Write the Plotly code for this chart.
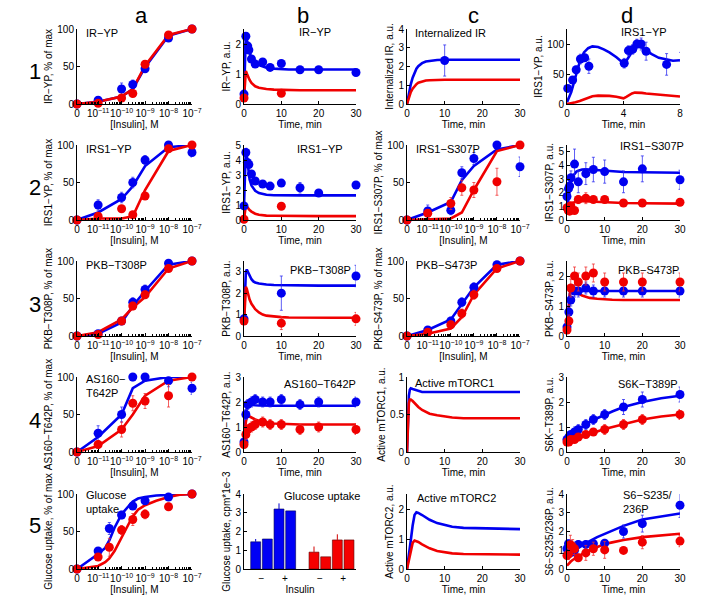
import math
import plotly.graph_objects as go

# ---------------- data ----------------
CONC = [0, 1e-11, 1e-10, 3e-10, 1e-9, 1e-8, 1e-7]
CONC_GLU = [0, 1e-11, 3e-11, 1e-10, 3e-10, 1e-9, 1e-8, 1e-7]
CONC_FINE = [0, 1e-11, 2e-11, 3e-11, 5e-11, 1e-10, 2e-10, 3e-10, 5e-10, 1e-9, 3e-9, 1e-8, 3e-8, 1e-7]
DOSE_TICKS = [0, 1e-11, 1e-10, 1e-9, 1e-8, 1e-7]
DOSE_TICKTEXT = ["0", "10<sup>−11</sup>", "10<sup>−10</sup>", "10<sup>−9</sup>", "10<sup>−8</sup>", "10<sup>−7</sup>"]

T_MOD = [0, 0.25, 0.5, 0.75, 1, 1.5, 2, 2.5, 3, 4, 5, 6, 8, 10, 12, 15, 20, 25, 30]
T_D1 = [0, 0.3, 0.6, 0.9, 1.2, 1.5, 1.8, 2.2, 2.6, 3.0, 3.5, 4.0, 4.2, 4.4, 4.6, 4.8, 5.0, 5.3, 5.6, 6.0, 6.5, 7.0, 7.5, 8.0]
T_PTS = [0, 0.5, 1, 2, 3, 5, 7, 10, 15, 20, 30]

# Row 1
ir_dose_blue_pts = [0, 5, 20, 26, 47, 88, 100]
ir_dose_blue_err = [0, 2, 8, 6, 5, 3, 0]
ir_dose_red_pts = [0, 1, 8, 14, 53, 92, 100]
ir_dose_blue_mod = [0, 3, 10, 20, 49, 91, 100]
ir_dose_red_mod = [0, 3, 10, 20, 51, 92, 100]

ir_t_blue_pts_t = [0, 0.5, 1, 1.3, 2, 3, 5, 7, 10, 15, 20, 30]
ir_t_blue_pts = [0.33, 2.26, 1.93, 1.8, 1.5, 1.33, 1.4, 1.22, 1.35, 1.14, 1.14, 1.05]
ir_t_blue_err = [0.03, 0.12, 0.1, 0.1, 0.08, 0.08, 0.08, 0.08, 0.08, 0.06, 0.06, 0.08]
ir_t_red_pts_t = [0, 10]
ir_t_red_pts = [0.2, 0.36]
ir_t_blue_mod = [0.3, 1.9, 2.3, 2.15, 1.95, 1.7, 1.55, 1.45, 1.38, 1.3, 1.25, 1.21, 1.18, 1.16, 1.15, 1.15, 1.15, 1.15, 1.15]
ir_t_red_mod = [0.2, 0.85, 1.1, 1.02, 0.93, 0.8, 0.7, 0.63, 0.59, 0.54, 0.51, 0.5, 0.48, 0.47, 0.47, 0.46, 0.46, 0.46, 0.46]

intir_blue_mod = [0, 0.3, 0.55, 0.8, 1.05, 1.4, 1.7, 1.88, 2.02, 2.18, 2.27, 2.31, 2.35, 2.36, 2.36, 2.36, 2.36, 2.36, 2.36]
intir_red_mod = [0, 0.18, 0.35, 0.5, 0.63, 0.82, 0.97, 1.06, 1.13, 1.21, 1.25, 1.27, 1.29, 1.29, 1.29, 1.29, 1.29, 1.29, 1.29]
intir_pts_t = [10]
intir_pts = [2.32]
intir_err = [0.83]

irs1_d_pts_t = [0.05, 0.4, 0.65, 0.95, 1.25, 1.55, 4.05, 4.35, 4.65, 4.95, 5.25, 5.6, 7.05, 8.05]
irs1_d_pts = [26, 40, 57, 75, 77, 63, 68, 89, 91, 100, 100, 88, 66, 79]
irs1_d_err = [5, 5, 6, 8, 6, 12, 8, 8, 8, 8, 10, 15, 18, 7]
irs1_d_blue_mod = [3, 20, 45, 70, 86, 93, 96, 95, 91, 86, 78, 68, 72, 80, 88, 94, 96, 94, 89, 83, 77, 74, 72, 73]
irs1_d_red_mod = [0, 1, 3, 5, 8, 11, 13, 14, 14, 13.5, 12, 9.5, 12, 15, 17.5, 19, 19, 18.5, 17.5, 16.5, 15, 14, 13, 12.5]

# Row 2
irs1_dose_blue_pts = [0, 20, 30, 50, 80, 100, 90]
irs1_dose_blue_err = [0, 7, 7, 7, 6, 0, 6]
irs1_dose_red_pts = [0, 5, 15, 7, 32, 95, 100]
irs1_dose_red_err = [0, 2, 4, 3, 4, 0, 0]
irs1_dose_blue_mod = [0, 10, 28, 45, 72, 97, 100]
irs1_dose_red_mod = [0, 2, 2, 5, 40, 92, 100]

irs1_t_blue_pts_t = [0, 0.5, 0.9, 1.3, 2, 3, 5, 7, 10, 15, 20, 30]
irs1_t_blue_pts = [0.94, 4.5, 3.84, 3.7, 3.07, 2.6, 2.4, 2.26, 2.46, 2.15, 1.8, 2.33]
irs1_t_blue_err = [0.1, 0.2, 0.2, 0.2, 0.15, 0.15, 0.15, 0.15, 0.15, 0.35, 0.15, 0.2]
irs1_t_red_pts_t = [0, 10]
irs1_t_red_pts = [0.05, 0.92]
irs1_t_red_err = [0.02, 0.15]
irs1_t_blue_mod = [0.95, 3.5, 4.8, 4.3, 3.6, 2.7, 2.3, 2.1, 1.95, 1.8, 1.72, 1.68, 1.65, 1.64, 1.64, 1.64, 1.64, 1.64, 1.64]
irs1_t_red_mod = [0.05, 0.7, 1.0, 0.9, 0.8, 0.66, 0.56, 0.48, 0.42, 0.35, 0.31, 0.29, 0.28, 0.27, 0.27, 0.26, 0.26, 0.26, 0.26]

s307_dose_blue_pts = [0, 12, 13, 63, 82, 100, 71]
s307_dose_blue_err = [0, 8, 6, 8, 8, 0, 13]
s307_dose_red_pts = [0, 9, 22, 43, 40, 51, 100]
s307_dose_red_err = [0, 3, 8, 10, 10, 18, 0]
s307_dose_blue_mod = [0, 10, 24, 53, 72, 94, 100]
s307_dose_red_mod = [0, 1, 2, 10, 40, 92, 100]

s307_t_blue_pts_t = [0, 0.4, 0.7, 1.05, 2, 3, 5, 7, 10, 15, 20, 30]
s307_t_blue_pts = [1.72, 2.3, 2.5, 3.1, 4.1, 2.8, 3.4, 3.7, 3.55, 2.8, 3.75, 2.95]
s307_t_blue_err = [0.3, 0.4, 0.4, 0.5, 1.1, 0.8, 0.8, 0.9, 0.85, 0.8, 0.95, 0.7]
s307_t_red_pts_t = [0, 0.35, 0.7, 1.0, 2, 3, 5, 7, 10, 15, 20, 30]
s307_t_red_pts = [0.9, 0.7, 0.65, 1.05, 0.7, 1.5, 1.6, 1.5, 1.5, 1.25, 1.25, 1.3]
s307_t_red_err = [0.2, 0.2, 0.2, 0.2, 0.2, 0.3, 0.4, 0.2, 0.2, 0.1, 0.1, 0.1]
s307_t_blue_mod = [0.8, 1.4, 2.0, 2.45, 2.8, 3.2, 3.4, 3.55, 3.62, 3.7, 3.72, 3.7, 3.65, 3.6, 3.56, 3.52, 3.5, 3.48, 3.46]
s307_t_red_mod = [0.8, 0.9, 1.0, 1.08, 1.15, 1.25, 1.32, 1.36, 1.38, 1.4, 1.38, 1.36, 1.33, 1.3, 1.28, 1.25, 1.23, 1.22, 1.2]

# Row 3
t308_dose_blue_pts = [0, 3, 20, 45, 62, 97, 100]
t308_dose_blue_err = [0, 2, 4, 6, 6, 3, 0]
t308_dose_red_pts = [0, 2, 20, 40, 55, 90, 100]
t308_dose_red_err = [0, 2, 4, 5, 5, 3, 0]
t308_dose_blue_mod = [0, 3, 18, 40, 60, 95, 100]
t308_dose_red_mod = [0, 5, 22, 38, 52, 90, 100]

t308_t_blue_pts_t = [0, 10, 30]
t308_t_blue_pts = [0.8, 2.0, 2.8]
t308_t_blue_err = [0.2, 0.8, 0.5]
t308_t_red_pts_t = [0, 10, 30]
t308_t_red_pts = [0.7, 0.6, 0.8]
t308_t_red_err = [0.1, 0.3, 0.3]
t308_t_blue_mod = [0.7, 2.2, 3.0, 3.1, 3.0, 2.8, 2.65, 2.55, 2.5, 2.45, 2.42, 2.4, 2.38, 2.37, 2.36, 2.35, 2.35, 2.35, 2.35]
t308_t_red_mod = [0.6, 1.8, 2.3, 2.2, 2.0, 1.7, 1.5, 1.35, 1.25, 1.1, 1.0, 0.95, 0.9, 0.88, 0.86, 0.85, 0.85, 0.85, 0.85]

s473_dose_blue_pts = [0, 8, 20, 45, 65, 95, 100]
s473_dose_blue_err = [0, 3, 5, 6, 6, 3, 0]
s473_dose_red_pts = [0, 5, 15, 30, 55, 90, 100]
s473_dose_red_err = [0, 3, 5, 6, 6, 3, 0]
s473_dose_blue_mod = [0, 8, 22, 42, 65, 95, 100]
s473_dose_red_mod = [0, 3, 10, 25, 55, 90, 100]

s473_t_blue_pts = [0.3, 0.8, 1.2, 1.5, 1.5, 1.6, 1.5, 1.5, 1.5, 1.5, 1.5]
s473_t_blue_err = [0.1, 0.2, 0.2, 0.2, 0.2, 0.2, 0.2, 0.2, 0.2, 0.2, 0.2]
s473_t_red_pts = [0.2, 0.5, 1.6, 2.0, 1.8, 2.0, 2.1, 1.8, 1.8, 1.8, 1.8]
s473_t_red_err = [0.1, 0.2, 0.3, 0.3, 0.3, 0.3, 0.3, 0.3, 0.3, 0.3, 0.3]
s473_t_blue_mod = [0.1, 0.6, 1.1, 1.4, 1.55, 1.6, 1.58, 1.55, 1.52, 1.5, 1.5, 1.5, 1.5, 1.5, 1.5, 1.5, 1.5, 1.5, 1.5]
s473_t_red_mod = [0.1, 0.6, 1.1, 1.4, 1.55, 1.6, 1.55, 1.48, 1.42, 1.35, 1.3, 1.27, 1.24, 1.22, 1.21, 1.2, 1.2, 1.2, 1.2]

# Row 4
as160_dose_blue_pts = [0, 25, 50, 100, 100, 95, 85]
as160_dose_blue_err = [0, 10, 10, 5, 5, 8, 8]
as160_dose_red_pts = [0, 10, 30, 65, 68, 75, 100]
as160_dose_red_err = [0, 5, 10, 10, 10, 15, 0]
as160_dose_blue_mod = [0, 20, 50, 85, 95, 100, 100]
as160_dose_red_mod = [0, 8, 30, 50, 75, 95, 100]

as160_t_blue_pts = [0.4, 1.5, 1.9, 2.0, 2.1, 2.0, 2.0, 2.1, 1.9, 2.0, 2.0]
as160_t_blue_err = [0.1, 0.2, 0.2, 0.2, 0.2, 0.2, 0.2, 0.2, 0.2, 0.2, 0.2]
as160_t_red_pts = [0.3, 0.7, 0.9, 1.0, 1.1, 1.2, 1.1, 1.1, 0.9, 1.0, 0.9]
as160_t_red_err = [0.1, 0.2, 0.2, 0.2, 0.2, 0.2, 0.2, 0.2, 0.2, 0.2, 0.2]
as160_t_blue_mod = [0.3, 1.0, 1.5, 1.75, 1.85, 1.9, 1.9, 1.88, 1.87, 1.86, 1.85, 1.85, 1.85, 1.85, 1.85, 1.85, 1.85, 1.85, 1.85]
as160_t_red_mod = [0.2, 0.8, 1.2, 1.4, 1.45, 1.42, 1.38, 1.33, 1.3, 1.25, 1.2, 1.17, 1.14, 1.12, 1.11, 1.1, 1.1, 1.1, 1.1]

mtorc1_blue_mod = [0, 0.45, 0.75, 0.83, 0.85, 0.84, 0.83, 0.82, 0.81, 0.8, 0.8, 0.8, 0.8, 0.8, 0.8, 0.8, 0.8, 0.8, 0.8]
mtorc1_red_mod = [0, 0.4, 0.65, 0.7, 0.7, 0.68, 0.65, 0.62, 0.6, 0.56, 0.53, 0.51, 0.49, 0.47, 0.46, 0.45, 0.45, 0.45, 0.45]

s6k_t_blue_pts = [0.5, 0.6, 0.7, 0.8, 0.9, 1.1, 1.3, 1.5, 1.8, 2.1, 2.3]
s6k_t_blue_err = [0.1, 0.1, 0.1, 0.2, 0.2, 0.2, 0.2, 0.2, 0.3, 0.3, 0.3]
s6k_t_red_pts = [0.4, 0.4, 0.5, 0.5, 0.6, 0.7, 0.8, 0.9, 1.1, 1.3, 1.5]
s6k_t_red_err = [0.1, 0.1, 0.1, 0.1, 0.1, 0.1, 0.1, 0.2, 0.2, 0.2, 0.2]
s6k_t_blue_mod = [0.4, 0.45, 0.5, 0.55, 0.6, 0.68, 0.75, 0.82, 0.9, 1.0, 1.1, 1.2, 1.35, 1.5, 1.62, 1.8, 2.0, 2.15, 2.25]
s6k_t_red_mod = [0.3, 0.32, 0.34, 0.36, 0.38, 0.42, 0.46, 0.5, 0.54, 0.6, 0.66, 0.72, 0.82, 0.92, 1.0, 1.12, 1.3, 1.42, 1.5]

# Row 5
glu_dose_blue_pts = [0, 24, 54, 72, 84, 91, 96, 100]
glu_dose_blue_err = [0, 4, 8, 5, 4, 4, 3, 0]
glu_dose_red_pts = [0, 16, 29, 52, 66, 73, 83, 100]
glu_dose_red_err = [0, 4, 12, 6, 8, 6, 5, 0]
glu_dose_blue_mod = [0, 20, 28, 38, 55, 73, 84, 90, 94, 96, 98, 99, 100, 100]
glu_dose_red_mod = [0, 4, 9, 14, 24, 43, 60, 70, 79, 85, 91, 96, 99, 100]

glu_bar_blue = [1.45, 1.6, 3.2, 3.1]
glu_bar_blue_err = [0.15, 0, 0.3, 0]
glu_bar_red = [0.9, 0.65, 1.55, 1.55]
glu_bar_red_err = [0.3, 0, 0.3, 0]
glu_bar_labels = ["−", "+", "−", "+"]

mtorc2_blue_mod = [0, 0.2, 0.4, 0.65, 0.95, 1.45, 1.8, 1.89, 1.87, 1.8, 1.72, 1.64, 1.53, 1.46, 1.41, 1.37, 1.35, 1.34, 1.33]
mtorc2_red_mod = [0, 0.15, 0.3, 0.48, 0.65, 0.87, 0.95, 0.93, 0.9, 0.82, 0.75, 0.69, 0.6, 0.55, 0.52, 0.5, 0.49, 0.48, 0.48]

s6_t_blue_pts_t = [0, 0.4, 0.9, 1.3, 2, 3, 5, 7, 10, 15, 20, 30]
s6_t_blue_pts = [1.08, 1.35, 1.26, 0.9, 1.0, 1.31, 1.31, 1.35, 1.38, 2.0, 2.42, 3.4]
s6_t_blue_err = [0.1, 0.2, 0.2, 0.2, 0.2, 0.2, 0.2, 0.2, 0.2, 0.35, 0.45, 0.65]
s6_t_red_pts_t = [0, 0.4, 0.9, 1.5, 2, 3, 5, 7, 10, 15, 20, 30]
s6_t_red_pts = [0.72, 0.8, 1.3, 1.17, 1.08, 0.6, 0.86, 1.08, 1.02, 0.99, 1.43, 1.49]
s6_t_red_err = [0.2, 0.3, 0.5, 0.4, 0.3, 0.2, 0.4, 0.35, 0.45, 0.15, 0.35, 0.3]
s6_t_blue_mod = [0.63, 0.68, 0.73, 0.78, 0.83, 0.93, 1.01, 1.08, 1.15, 1.27, 1.39, 1.49, 1.7, 1.88, 2.07, 2.3, 2.64, 2.82, 2.96]
s6_t_red_mod = [0.18, 0.25, 0.3, 0.35, 0.4, 0.48, 0.55, 0.62, 0.68, 0.8, 0.92, 1.0, 1.18, 1.33, 1.42, 1.55, 1.7, 1.8, 1.88]

# ---------------- layout helpers ----------------
W, H = 719, 605
FONT = "Liberation Sans, Arial, sans-serif"
BLUE = "rgb(0,0,240)"
RED = "rgb(240,0,0)"
BLUE_E = "rgba(40,40,240,0.75)"
RED_E = "rgba(240,40,40,0.75)"
COLX = {"a": (77, 192), "b": (244, 356), "c": (407, 520), "d": (567, 680)}
ROWTOP = [29, 145, 261, 377, 494]
PH = 75
DOSE0 = -11.9


def dpos(c):
    return DOSE0 if c == 0 else math.log10(c)


fig = go.Figure()
axes = {}


def panel(row, col, xr, yr, yticks, xtitle, ytitle, xticks=None, xticktext=None, dose=False):
    k = (row - 1) * 4 + "abcd".index(col) + 1
    x0, x1 = COLX[col]
    top = ROWTOP[row - 1]
    bot = top + PH
    sx = "" if k == 1 else str(k)
    xa = dict(domain=[x0 / W, x1 / W], range=xr, anchor="y" + sx,
              showline=True, linecolor="black", linewidth=1, ticks="inside", ticklen=3,
              tickcolor="black", showgrid=False, zeroline=False, tickangle=0, automargin=False,
              tickfont=dict(size=10, family=FONT, color="black"),
              title=dict(text=xtitle, font=dict(size=10, family=FONT, color="black"), standoff=0))
    if dose:
        xa.update(tickmode="array", tickvals=[dpos(c) for c in DOSE_TICKS], ticktext=DOSE_TICKTEXT)
        mins = []
        for e in range(-12, -7):
            for m in range(2, 10):
                v = math.log10(m * 10 ** e)
                if DOSE0 < v < -7:
                    mins.append(v)
        xa["minor"] = dict(tickmode="array", tickvals=mins, ticks="inside", ticklen=2, tickcolor="black")
    elif xticks is not None:
        xa.update(tickmode="array", tickvals=xticks, ticktext=xticktext if xticktext else [str(v) for v in xticks])
    ya = dict(domain=[1 - bot / H, 1 - top / H], range=yr, anchor="x" + sx,
              showline=True, linecolor="black", linewidth=1, ticks="inside", ticklen=3,
              tickcolor="black", showgrid=False, zeroline=False, automargin=False,
              tickmode="array", tickvals=yticks, ticktext=[str(v) for v in yticks],
              tickfont=dict(size=10, family=FONT, color="black"),
              title=dict(text=ytitle, font=dict(size=10, family=FONT, color="black"), standoff=2))
    fig.layout["xaxis" + sx] = xa
    fig.layout["yaxis" + sx] = ya
    axes[(row, col)] = ("x" + sx, "y" + sx, k)
    return k


def line(row, col, x, y, color):
    xa, ya, _ = axes[(row, col)]
    fig.add_trace(go.Scatter(x=x, y=y, mode="lines", line=dict(color=color, width=2.6),
                             xaxis=xa, yaxis=ya, showlegend=False, cliponaxis=False, hoverinfo="skip"))


def pts(row, col, x, y, color, ecolor, err=None):
    xa, ya, _ = axes[(row, col)]
    ey = dict(type="data", array=err, visible=True, color=ecolor, thickness=1, width=1.5) if err else None
    fig.add_trace(go.Scatter(x=x, y=y, mode="markers", marker=dict(color=color, size=9, line=dict(width=0)),
                             error_y=ey, xaxis=xa, yaxis=ya, showlegend=False, cliponaxis=False,
                             hoverinfo="skip"))


def label(row, col, text, xd, yd, xanchor="left"):
    xa, ya, _ = axes[(row, col)]
    fig.add_annotation(text=text, xref=xa + " domain", yref=ya + " domain", x=xd, y=yd,
                       xanchor=xanchor, yanchor="middle", showarrow=False, align="left",
                       font=dict(size=11, family=FONT, color="black"))


def dose_panel(row, col, ytitle, name, bp, be, rp, re, bm, rm, namepos=(0.06, 0.95)):
    panel(row, col, [DOSE0, -7], [0, 100], [0, 50, 100], "[Insulin], M", ytitle, dose=True)
    xs = [dpos(c) for c in CONC]
    line(row, col, xs, bm, BLUE)
    line(row, col, xs, rm, RED)
    pts(row, col, xs, bp, BLUE, BLUE_E, be)
    pts(row, col, xs, rp, RED, RED_E, re)
    label(row, col, name, namepos[0], namepos[1])


# ---------- Row 1 ----------
dose_panel(1, "a", "IR−YP, % of max", "IR−YP", ir_dose_blue_pts, ir_dose_blue_err, ir_dose_red_pts,
           None, ir_dose_blue_mod, ir_dose_red_mod)

panel(1, "b", [0, 30], [0, 2.5], [0, 1, 2], "Time, min", "IR−YP, a.u.", xticks=[0, 10, 20, 30])
line(1, "b", T_MOD, ir_t_blue_mod, BLUE)
line(1, "b", T_MOD, ir_t_red_mod, RED)
pts(1, "b", ir_t_blue_pts_t, ir_t_blue_pts, BLUE, BLUE_E, ir_t_blue_err)
pts(1, "b", ir_t_red_pts_t, ir_t_red_pts, RED, RED_E)
label(1, "b", "IR−YP", 0.63, 0.96, "center")

panel(1, "c", [0, 30], [0, 4], [0, 1, 2, 3, 4], "Time, min", "Internalized IR, a.u.", xticks=[0, 10, 20, 30])
line(1, "c", T_MOD, intir_blue_mod, BLUE)
line(1, "c", T_MOD, intir_red_mod, RED)
pts(1, "c", intir_pts_t, intir_pts, BLUE, BLUE_E, intir_err)
label(1, "c", "Internalized IR", 0.05, 0.95)

panel(1, "d", [0, 8], [0, 125], [0, 50, 100], "Time, min", "IRS1−YP, a.u.", xticks=[0, 4, 8])
line(1, "d", T_D1, irs1_d_blue_mod, BLUE)
line(1, "d", T_D1, irs1_d_red_mod, RED)
pts(1, "d", irs1_d_pts_t, irs1_d_pts, BLUE, BLUE_E, irs1_d_err)
label(1, "d", "IRS1−YP", 0.68, 0.96, "center")

# ---------- Row 2 ----------
dose_panel(2, "a", "IRS1−YP, % of max", "IRS1−YP", irs1_dose_blue_pts, irs1_dose_blue_err,
           irs1_dose_red_pts, irs1_dose_red_err, irs1_dose_blue_mod, irs1_dose_red_mod)

panel(2, "b", [0, 30], [0, 5], [0, 1, 2, 3, 4, 5], "Time, min", "IRS1−YP, a.u.", xticks=[0, 10, 20, 30])
line(2, "b", T_MOD, irs1_t_blue_mod, BLUE)
line(2, "b", T_MOD, irs1_t_red_mod, RED)
pts(2, "b", irs1_t_blue_pts_t, irs1_t_blue_pts, BLUE, BLUE_E, irs1_t_blue_err)
pts(2, "b", irs1_t_red_pts_t, irs1_t_red_pts, RED, RED_E, irs1_t_red_err)
label(2, "b", "IRS1−YP", 0.68, 0.95, "center")

dose_panel(2, "c", "IRS1−S307P, % of max", "IRS1−S307P", s307_dose_blue_pts, s307_dose_blue_err,
           s307_dose_red_pts, s307_dose_red_err, s307_dose_blue_mod, s307_dose_red_mod)

panel(2, "d", [0, 30], [0, 5.5], [0, 1, 2, 3, 4, 5], "Time, min", "IRS1−S307P, a.u.", xticks=[0, 10, 20, 30])
line(2, "d", T_MOD, s307_t_blue_mod, BLUE)
line(2, "d", T_MOD, s307_t_red_mod, RED)
pts(2, "d", s307_t_blue_pts_t, s307_t_blue_pts, BLUE, BLUE_E, s307_t_blue_err)
pts(2, "d", s307_t_red_pts_t, s307_t_red_pts, RED, RED_E, s307_t_red_err)
label(2, "d", "IRS1−S307P", 0.75, 0.99, "center")

# ---------- Row 3 ----------
dose_panel(3, "a", "PKB−T308P, % of max", "PKB−T308P", t308_dose_blue_pts, t308_dose_blue_err,
           t308_dose_red_pts, t308_dose_red_err, t308_dose_blue_mod, t308_dose_red_mod)

panel(3, "b", [0, 30], [0, 3.5], [0, 1, 2, 3], "Time, min", "PKB−T308P, a.u.", xticks=[0, 10, 20, 30])
line(3, "b", T_MOD, t308_t_blue_mod, BLUE)
line(3, "b", T_MOD, t308_t_red_mod, RED)
pts(3, "b", t308_t_blue_pts_t, t308_t_blue_pts, BLUE, BLUE_E, t308_t_blue_err)
pts(3, "b", t308_t_red_pts_t, t308_t_red_pts, RED, RED_E, t308_t_red_err)
label(3, "b", "PKB−T308P", 0.68, 0.88, "center")

dose_panel(3, "c", "PKB−S473P, % of max", "PKB−S473P", s473_dose_blue_pts, s473_dose_blue_err,
           s473_dose_red_pts, s473_dose_red_err, s473_dose_blue_mod, s473_dose_red_mod)

panel(3, "d", [0, 30], [0, 2.5], [0, 1, 2], "Time, min", "PKB−S473P, a.u.", xticks=[0, 10, 20, 30])
line(3, "d", T_MOD, s473_t_blue_mod, BLUE)
line(3, "d", T_MOD, s473_t_red_mod, RED)
pts(3, "d", T_PTS, s473_t_blue_pts, BLUE, BLUE_E, s473_t_blue_err)
pts(3, "d", T_PTS, s473_t_red_pts, RED, RED_E, s473_t_red_err)
label(3, "d", "PKB−S473P", 0.72, 0.88, "center")

# ---------- Row 4 ----------
dose_panel(4, "a", "AS160−T642P, % of max", "AS160−<br>T642P", as160_dose_blue_pts, as160_dose_blue_err,
           as160_dose_red_pts, as160_dose_red_err, as160_dose_blue_mod, as160_dose_red_mod,
           namepos=(0.06, 0.88))

panel(4, "b", [0, 30], [0, 3], [0, 1, 2, 3], "Time, min", "AS160−T642P, a.u.", xticks=[0, 10, 20, 30])
line(4, "b", T_MOD, as160_t_blue_mod, BLUE)
line(4, "b", T_MOD, as160_t_red_mod, RED)
pts(4, "b", T_PTS, as160_t_blue_pts, BLUE, BLUE_E, as160_t_blue_err)
pts(4, "b", T_PTS, as160_t_red_pts, RED, RED_E, as160_t_red_err)
label(4, "b", "AS160−T642P", 0.68, 0.91, "center")

panel(4, "c", [0, 30], [0, 1], [0, 0.5, 1], "Time, min", "Active mTORC1, a.u.", xticks=[0, 10, 20, 30])
line(4, "c", T_MOD, mtorc1_blue_mod, BLUE)
line(4, "c", T_MOD, mtorc1_red_mod, RED)
label(4, "c", "Active mTORC1", 0.05, 0.92)

panel(4, "d", [0, 30], [0, 3], [0, 1, 2, 3], "Time, min", "S6K−T389P, a.u.", xticks=[0, 10, 20, 30])
line(4, "d", T_MOD, s6k_t_blue_mod, BLUE)
line(4, "d", T_MOD, s6k_t_red_mod, RED)
pts(4, "d", T_PTS, s6k_t_blue_pts, BLUE, BLUE_E, s6k_t_blue_err)
pts(4, "d", T_PTS, s6k_t_red_pts, RED, RED_E, s6k_t_red_err)
label(4, "d", "S6K−T389P", 0.72, 0.91, "center")

# ---------- Row 5 ----------
panel(5, "a", [DOSE0, -7], [0, 100], [0, 50, 100], "[Insulin], M", "Glucose uptake, % of max", dose=True)
line(5, "a", [dpos(c) for c in CONC_FINE], glu_dose_blue_mod, BLUE)
line(5, "a", [dpos(c) for c in CONC_FINE], glu_dose_red_mod, RED)
pts(5, "a", [dpos(c) for c in CONC_GLU], glu_dose_blue_pts, BLUE, BLUE_E, glu_dose_blue_err)
pts(5, "a", [dpos(c) for c in CONC_GLU], glu_dose_red_pts, RED, RED_E, glu_dose_red_err)
label(5, "a", "Glucose<br>uptake", 0.06, 0.9)

panel(5, "b", [0, 9.6], [0, 4], [0, 1, 2, 3, 4], "Insulin", "Glucose uptake, cpm*1e−3",
      xticks=[1.5, 3.5, 6.5, 8.5], xticktext=glu_bar_labels)
xa5, ya5, _ = axes[(5, "b")]
fig.add_trace(go.Bar(x=[1, 2, 3, 4], y=glu_bar_blue, width=0.85, marker=dict(color="rgb(0,0,245)", line=dict(color="rgb(0,0,80)", width=0.6)),
                     error_y=dict(type="data", symmetric=False, array=glu_bar_blue_err, arrayminus=[0, 0, 0, 0],
                                  color="rgb(0,0,200)", thickness=1, width=0),
                     xaxis=xa5, yaxis=ya5, showlegend=False, hoverinfo="skip"))
fig.add_trace(go.Bar(x=[6, 7, 8, 9], y=glu_bar_red, width=0.85, marker=dict(color="rgb(245,0,0)", line=dict(color="rgb(90,0,0)", width=0.6)),
                     error_y=dict(type="data", symmetric=False, array=glu_bar_red_err, arrayminus=[0, 0, 0, 0],
                                  color="rgb(210,0,0)", thickness=1, width=0),
                     xaxis=xa5, yaxis=ya5, showlegend=False, hoverinfo="skip"))
fig.layout["xaxis" + xa5[1:]]["ticks"] = ""
label(5, "b", "Glucose uptake", 0.34, 0.97)

panel(5, "c", [0, 30], [0, 2.5], [0, 1, 2], "Time, min", "Active mTORC2, a.u.", xticks=[0, 10, 20, 30])
line(5, "c", T_MOD, mtorc2_blue_mod, BLUE)
line(5, "c", T_MOD, mtorc2_red_mod, RED)
label(5, "c", "Active mTORC2", 0.07, 0.95)

panel(5, "d", [0, 30], [0, 4], [0, 1, 2, 3, 4], "Time, min", "S6−S235/236P, a.u.", xticks=[0, 10, 20, 30])
line(5, "d", T_MOD, s6_t_blue_mod, BLUE)
line(5, "d", T_MOD, s6_t_red_mod, RED)
pts(5, "d", s6_t_blue_pts_t, s6_t_blue_pts, BLUE, BLUE_E, s6_t_blue_err)
pts(5, "d", s6_t_red_pts_t, s6_t_red_pts, RED, RED_E, s6_t_red_err)
label(5, "d", "S6−S235/<br>236P", 0.48, 0.9)

# ---------- headers ----------
for letter, px in zip("abcd", [141, 303, 473, 627]):
    fig.add_annotation(text=letter, xref="paper", yref="paper", x=px / W, y=1 - 15 / H,
                       xanchor="center", yanchor="middle",
                       showarrow=False, font=dict(size=22, family=FONT, color="black"))
for i, py in enumerate([72, 188, 304, 420, 525]):
    fig.add_annotation(text=str(i + 1), xref="paper", yref="paper", x=35 / W, y=1 - py / H,
                       xanchor="center", yanchor="middle",
                       showarrow=False, font=dict(size=22, family=FONT, color="black"))

fig.update_layout(width=W, height=H, margin=dict(l=0, r=0, t=0, b=0, autoexpand=False),
                  paper_bgcolor="white", plot_bgcolor="white", barmode="overlay",
                  font=dict(family=FONT, color="black"))
fig.write_html("out.html", config={"displayModeBar": False},
               post_script="document.body.style.margin='0px';document.body.style.padding='0px';")
